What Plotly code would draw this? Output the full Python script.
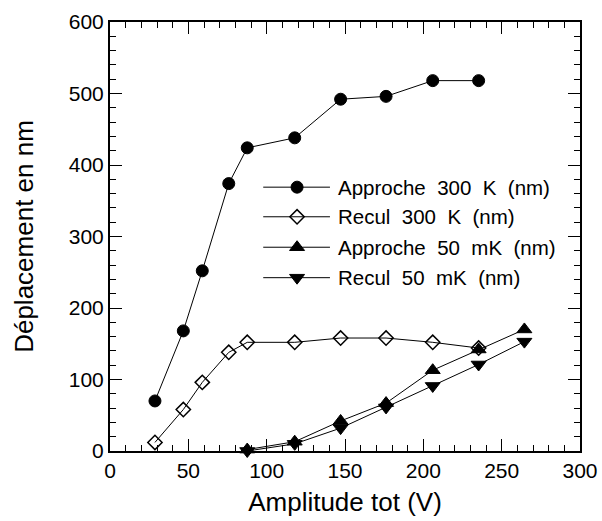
import plotly.graph_objects as go

# ---- data ----
amp_appr_300 = [28.7, 46.8, 58.9, 75.8, 87.6, 117.9, 147.2, 176.2, 206.0, 235.3]
dep_appr_300 = [70, 168, 252, 374, 424, 438, 492, 496, 518, 518]

amp_rec_300 = [28.7, 46.8, 58.9, 75.8, 87.6, 117.9, 147.2, 176.2, 206.0, 235.3]
dep_rec_300 = [12, 58, 96, 138, 152, 152, 158, 158, 152, 144]

amp_appr_50 = [87.6, 117.9, 147.2, 176.2, 206.0, 235.3, 264.5]
dep_appr_50 = [2, 13, 42, 67, 113, 142, 170]

amp_rec_50 = [87.6, 117.9, 147.2, 176.2, 206.0, 235.3, 264.5]
dep_rec_50 = [0, 10, 32, 61, 91, 121, 153]

series_names = ["Approche  300  K  (nm)", "Recul  300  K  (nm)",
                "Approche  50  mK  (nm)", "Recul  50  mK  (nm)"]

x_ticks = [0, 50, 100, 150, 200, 250, 300]
y_ticks = [0, 100, 200, 300, 400, 500, 600]

# ---- styles ----
FONT = "Liberation Sans, Arial, Helvetica, sans-serif"
styles = [
    dict(symbol="circle", size=12, color="black", line=dict(color="black", width=1)),
    dict(symbol="diamond-open", size=11, color="black", line=dict(color="black", width=1.5)),
    dict(symbol="triangle-up", size=13, color="black", line=dict(color="black", width=1)),
    dict(symbol="triangle-down", size=13, color="black", line=dict(color="black", width=1)),
]
data = [(amp_appr_300, dep_appr_300), (amp_rec_300, dep_rec_300),
        (amp_appr_50, dep_appr_50), (amp_rec_50, dep_rec_50)]

fig = go.Figure()
for (xs, ys), st, nm in zip(data, styles, series_names):
    fig.add_trace(go.Scatter(x=xs, y=ys, mode="lines+markers", name=nm,
                             line=dict(color="black", width=1),
                             marker=st, showlegend=False, cliponaxis=False))

# custom legend (in overlay axis with 0..1 range)
leg_x0, leg_xm, leg_x1, leg_xt = 0.326, 0.398, 0.468, 0.481
leg_rows = [0.615, 0.546, 0.475, 0.404]
for st, nm, yy in zip(styles, series_names, leg_rows):
    fig.add_trace(go.Scatter(x=[leg_x0, leg_x1], y=[yy, yy], mode="lines",
                             line=dict(color="black", width=1),
                             xaxis="x2", yaxis="y2", showlegend=False, hoverinfo="skip"))
    fig.add_trace(go.Scatter(x=[leg_xm], y=[yy], mode="markers", marker=st,
                             xaxis="x2", yaxis="y2", showlegend=False, hoverinfo="skip"))
    fig.add_annotation(x=leg_xt, y=yy, xref="x2", yref="y2", text=nm,
                       showarrow=False, xanchor="left", yanchor="middle",
                       font=dict(family=FONT, size=20.5, color="black"))

axis_common = dict(showgrid=False, zeroline=False, showline=True, linecolor="black",
                   linewidth=2, mirror="allticks", ticks="inside", ticklen=12,
                   tickwidth=1.2, tickcolor="black", automargin=False,
                   tickfont=dict(family=FONT, size=21, color="black"))

fig.update_layout(
    width=602, height=521,
    margin=dict(l=110, r=22, t=22, b=70),
    paper_bgcolor="white", plot_bgcolor="white",
    showlegend=False,
    xaxis=dict(range=[0, 300], tickvals=x_ticks,
               minor=dict(ticks="inside", dtick=10, ticklen=6, tickcolor="black", tickwidth=1.2),
               title=dict(text="Amplitude tot (V)", font=dict(family=FONT, size=26, color="black"),
                          standoff=12),
               **axis_common),
    yaxis=dict(range=[0, 600], tickvals=y_ticks,
               minor=dict(ticks="inside", dtick=20, ticklen=6, tickcolor="black", tickwidth=1.2),
               title=dict(text="Déplacement en nm", font=dict(family=FONT, size=26, color="black"),
                          standoff=28),
               **axis_common),
    xaxis2=dict(overlaying="x", range=[0, 1], visible=False),
    yaxis2=dict(overlaying="y", range=[0, 1], visible=False),
)

fig.write_html("out.html")
